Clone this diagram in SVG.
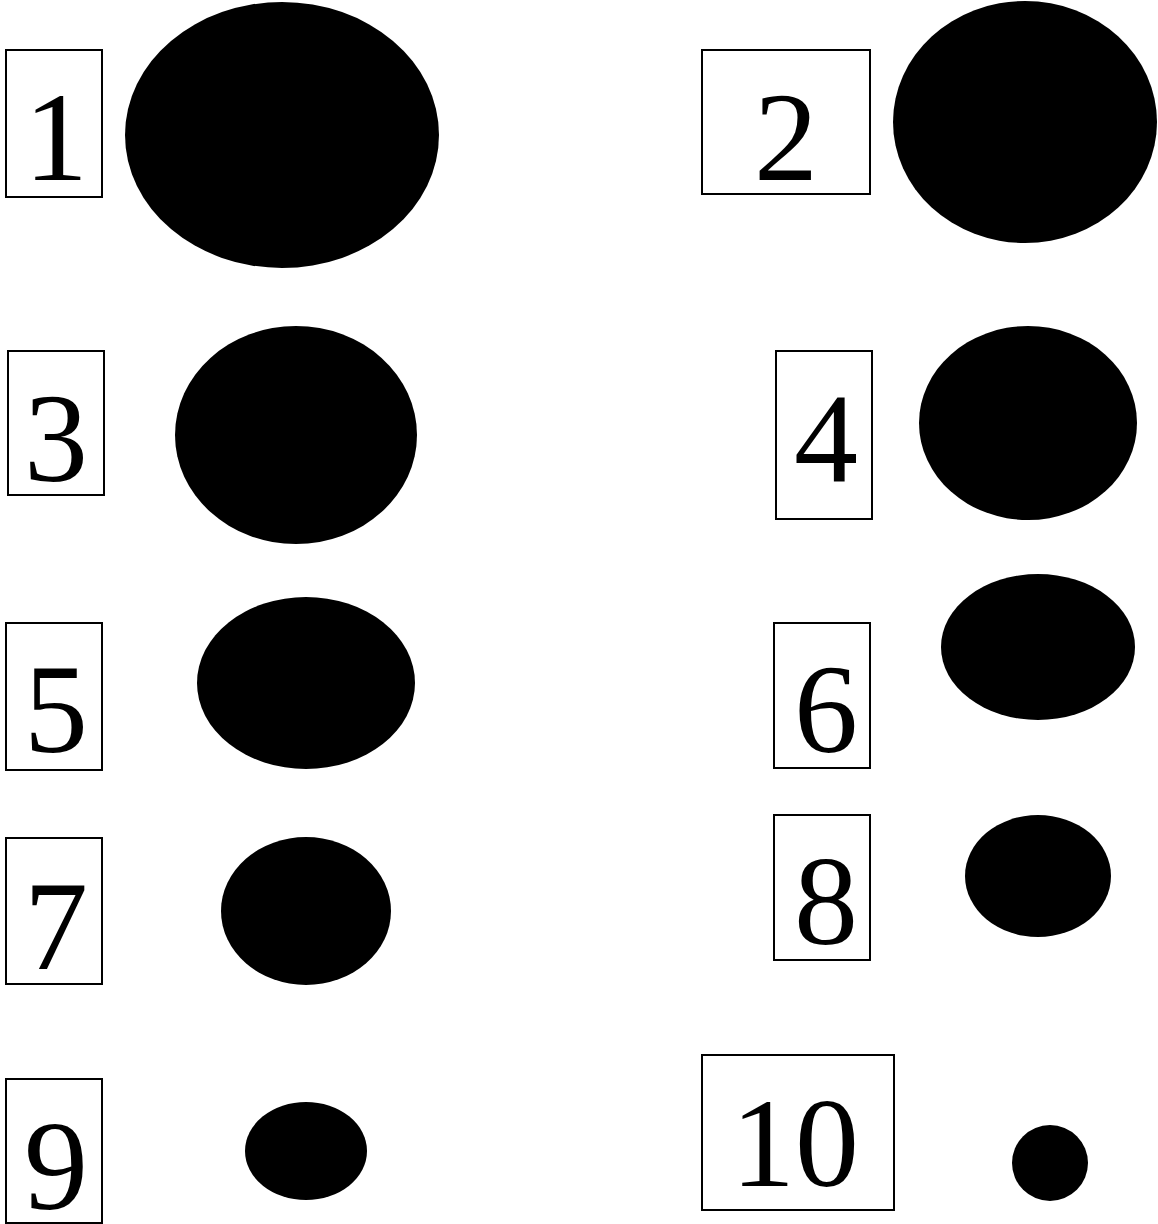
<svg xmlns="http://www.w3.org/2000/svg" width="1158" height="1224" viewBox="0 0 1158 1224">
<style>
.box{fill:#fff;stroke:#000;stroke-width:2}
.dot{fill:#000}
.lbl{font-size:128px;fill:#000;text-anchor:middle}
</style>
<rect width="1158" height="1224" fill="#fff"/>
<g font-family="Liberation Serif, Times New Roman, Times, serif">
<g id="n1"><rect class="box" x="6" y="50" width="96" height="147"/><text class="lbl" x="56" y="180">1</text><ellipse class="dot" cx="282" cy="135" rx="157" ry="133"/></g>
<g id="n2"><rect class="box" x="702" y="50" width="168" height="144"/><text class="lbl" x="786" y="180">2</text><ellipse class="dot" cx="1025" cy="122" rx="132" ry="121"/></g>
<g id="n3"><rect class="box" x="8" y="351" width="96" height="144"/><text class="lbl" x="56" y="481">3</text><ellipse class="dot" cx="296" cy="435" rx="121" ry="109"/></g>
<g id="n4"><rect class="box" x="776" y="351" width="96" height="168"/><text class="lbl" x="826" y="481">4</text><ellipse class="dot" cx="1028" cy="423" rx="109" ry="97"/></g>
<g id="n5"><rect class="box" x="6" y="623" width="96" height="147"/><text class="lbl" x="56" y="752">5</text><ellipse class="dot" cx="306" cy="683" rx="109" ry="86"/></g>
<g id="n6"><rect class="box" x="774" y="623" width="96" height="145"/><text class="lbl" x="826" y="752">6</text><ellipse class="dot" cx="1038" cy="647" rx="97" ry="73"/></g>
<g id="n7"><rect class="box" x="6" y="838" width="96" height="146"/><text class="lbl" x="56" y="969">7</text><ellipse class="dot" cx="306" cy="911" rx="85" ry="74"/></g>
<g id="n8"><rect class="box" x="774" y="815" width="96" height="145"/><text class="lbl" x="826" y="944">8</text><ellipse class="dot" cx="1038" cy="876" rx="73" ry="61"/></g>
<g id="n9"><rect class="box" x="6" y="1079" width="96" height="144"/><text class="lbl" x="56" y="1209">9</text><ellipse class="dot" cx="306" cy="1151" rx="61" ry="49"/></g>
<g id="n10"><rect class="box" x="702" y="1055" width="192" height="155"/><text class="lbl" x="795" y="1186">10</text><circle class="dot" cx="1050" cy="1163" r="38"/></g>
</g>
<g id="connectors"/>
</svg>
